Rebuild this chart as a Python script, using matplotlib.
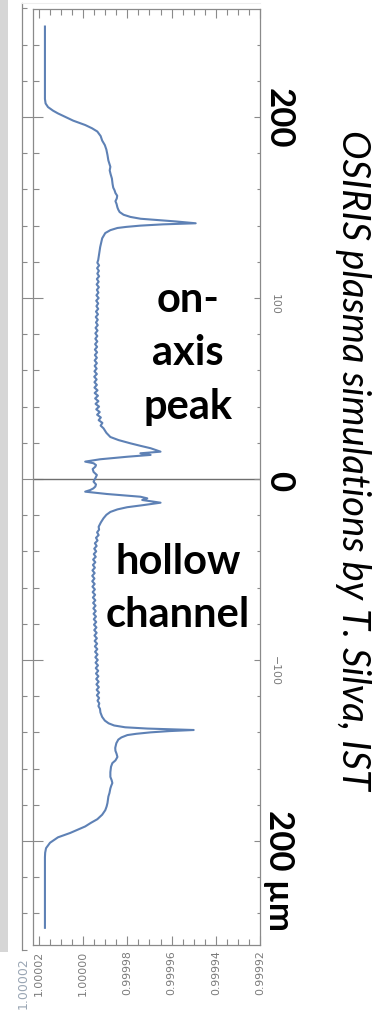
import matplotlib
matplotlib.use("Agg")
import matplotlib.pyplot as plt
import numpy as np
from matplotlib.patches import Rectangle
from matplotlib.ticker import MultipleLocator

# ---------------- data (index deviation from 1, in parts per million) ----------------
upper_edge_pos = [250, 230, 210, 207.5, 205.5, 203.5, 202, 200, 198, 195.6, 193.8, 192,
                  189.5, 187, 184.5, 182, 179, 176, 174, 172.5, 170.5, 168.5, 166, 163,
                  161, 159.5, 158, 156.5, 155, 153.5, 152, 150, 148.8, 147.5, 146, 144.8,
                  143.8, 143.1, 142.3, 141.3, 140.7, 140.0, 139.3, 138.7, 137.5, 135.9,
                  133, 128.2, 124, 121]
upper_edge_dn = [17.3, 17.3, 17.3, 17.0, 15.9, 13.6, 11.4, 8.0, 4.5, -0.9, -4.0, -6.4,
                 -7.9, -8.6, -9.8, -10.5, -11.0, -11.4, -11.9, -12.3, -12.0, -12.4, -13.0, -13.3,
                 -13.6, -14.2, -14.6, -15.4, -15.2, -14.6, -15.1, -15.5, -15.9, -16.5, -18.3, -21.4,
                 -26.0, -33.6, -42.0, -50.9, -36.0, -25.9, -19.5, -15.5, -12.3, -10.0,
                 -8.6, -7.7, -7.2, -6.8]

upper_channel_pos = [119.5, 118, 116.5, 115, 113.5, 112, 110.5, 109, 107.5, 106, 104.5, 103,
                     101.5, 100, 98.5, 97, 95.5, 94, 92.5, 91, 89.5, 88, 86.5, 85, 83.5, 82,
                     80.5, 79, 77.5, 76, 74.5, 73, 71.5, 70, 68.5, 67, 65.5, 64, 62.5, 61,
                     59.5, 58, 56.5, 55, 53.5, 52, 50.5, 49, 47.5, 46, 44.5, 43, 41.5, 40,
                     38.5, 37, 35.5, 34, 32.5, 31, 29.5]
upper_channel_dn = [-6.4, -7.2, -6.3, -7.1, -6.4, -7.2, -6.2, -7.0, -6.1, -7.1, -6.2, -6.9,
                    -6.0, -7.0, -5.9, -6.8, -6.0, -6.8, -5.8, -6.7, -5.7, -6.6, -5.8, -6.6, -5.6, -6.5,
                    -5.5, -6.4, -5.5, -6.4, -5.4, -6.3, -5.3, -6.3, -5.3, -6.2, -5.2, -6.2, -5.2, -6.1,
                    -5.1, -6.2, -5.0, -6.1, -5.1, -6.2, -5.1, -6.5, -5.2, -6.7, -5.4, -6.9, -5.6, -7.2,
                    -5.9, -7.5, -6.3, -8.0, -7.0, -8.7, -7.9]

center_pos = [28.0, 25.5, 23.2, 21.5, 19.7, 18.3, 17.0, 15.1, 14.2, 13.3, 12.3, 10.9, 9.6,
              8.7, 7.7, 6.8, 5.5, 3.9, 2.2, 0.4, -1.5, -3.0, -4.2, -5.2, -6.1, -7.0, -8.3,
              -9.8, -10.7, -11.6, -13.1, -14.4, -15.6, -16.8, -18.2, -19.8, -21.7, -24.0,
              -26.4, -28.0]
center_dn = [-9.2, -10.5, -12.3, -16.0, -21.4, -26.0, -30.5, -35.0, -25.9, -30.5, -20.0, -7.7, -0.9,
             -4.7, -5.8, -5.5, -4.3, -4.7, -6.2, -5.5, -4.7, -5.8, -5.5, -4.6, -3.2, -0.9, -10.8,
             -25.9, -29.0, -26.7, -35.0, -27.4, -19.9, -15.5, -12.3, -10.5, -9.2, -8.0,
             -7.0, -7.2]

lower_channel_pos = [-29.5, -31, -32.5, -34, -35.5, -37, -38.5, -40, -41.5, -43, -44.5, -46,
                     -47.5, -49, -50.5, -52, -53.5, -55, -56.5, -58, -59.5, -61, -62.5, -64,
                     -65.5, -67, -68.5, -70, -71.5, -73, -74.5, -76, -77.5, -79, -80.5, -82,
                     -83.5, -85, -86.5, -88, -89.5, -91, -92.5, -94, -95.5, -97, -98.5, -100,
                     -101.5, -103, -104.5, -106, -107.5, -109, -110.5, -112, -113.5, -115,
                     -116.5, -118, -119.5, -121, -122.5, -124, -125.5, -127]
lower_channel_dn = [-6.3, -7.0, -5.8, -6.5, -5.3, -6.1, -5.0, -5.9, -4.8, -5.7, -4.5, -5.5,
                    -4.4, -5.3, -4.2, -5.2, -4.1, -5.1, -4.1, -5.2, -4.2, -5.3, -4.3, -5.4,
                    -4.4, -5.5, -4.5, -5.6, -4.6, -5.7, -4.7, -5.8, -4.8, -5.9, -4.9, -6.0,
                    -5.0, -6.1, -5.1, -6.2, -5.2, -6.3, -5.3, -6.4, -5.4, -6.5, -5.5, -6.6,
                    -5.6, -6.7, -5.7, -6.8, -5.8, -6.9, -5.9, -7.0, -6.0, -7.1,
                    -6.1, -7.2, -6.2, -7.2, -6.5, -7.3, -6.9, -7.6]

lower_edge_pos = [-129, -131.5, -133.5, -135, -136.2, -137.2, -137.9, -138.7, -139.3, -140.0,
                  -140.8, -141.5, -142.8, -144, -146, -148.6, -150.2, -151.8, -153.6, -155.5,
                  -157, -159, -162, -164.6, -166.5, -168, -169.5, -171, -173.5, -175.5, -179,
                  -181, -183, -185.5, -187, -188, -190, -192, -195.6, -198, -201, -204,
                  -206.5, -209, -230, -248]
lower_edge_dn = [-7.8, -8.6, -9.8, -11.5, -14.0, -19.0, -29.0, -50.0, -39.0, -30.5,
                 -24.0, -20.0, -17.3, -15.9, -15.0, -14.5, -14.6, -15.1, -15.5, -14.6,
                 -13.2, -12.6, -12.3, -12.3, -12.9, -13.2, -12.7, -12.3, -11.9, -11.4, -11.0,
                 -10.6, -10.0, -8.6, -7.3, -6.4, -3.5, -0.9, 5.9, 11.4, 15.0, 16.8,
                 17.2, 17.3, 17.3, 17.3]

value_ticks_ppm = [20, 0, -20, -40, -60, -80]
value_tick_labels = ["1.00002", "1.00000", "0.99998", "0.99996", "0.99994", "0.99992"]
pos_ticks = [-200, -100, 0, 100, 200]
# the small labels at -200, 0 and 200 sit under the large bold labels
pos_tick_labels = ["", "\u2212100", "", "100", ""]

# ---------------- assemble ----------------
pos = np.concatenate([upper_edge_pos, upper_channel_pos, center_pos,
                      lower_channel_pos, lower_edge_pos])
dn = np.concatenate([upper_edge_dn, upper_channel_dn, center_dn,
                     lower_channel_dn, lower_edge_dn])
n_index = 1.0 + dn * 1e-6

W, H = 383, 1016
fig = plt.figure(figsize=(W / 100, H / 100), dpi=100)
fx = lambda px: px / W
fy = lambda py: 1 - py / H
GRAY = "#8a8a8a"

# grey strip on the far left
fig.add_artist(Rectangle((0, fy(952)), fx(8), 952 / H, transform=fig.transFigure,
                         facecolor="#d6d6d6", edgecolor="none", zorder=0))

# shadow frame behind
axo = fig.add_axes([fx(22), fy(950), fx(260) - fx(22), (950 - 3) / H])
axo.patch.set_visible(False)
axo.set_xlim(0, 1)
axo.set_ylim(-260.2, 263)
for s in ["right", "bottom"]:
    axo.spines[s].set_visible(False)
axo.spines["left"].set_color(GRAY)
axo.spines["left"].set_linewidth(0.9)
axo.spines["top"].set_color("#eeeeee")
axo.set_xticks([])
axo.yaxis.set_major_locator(MultipleLocator(100))
axo.yaxis.set_minor_locator(MultipleLocator(20))
axo.tick_params(axis="y", which="major", direction="in", length=8, width=0.8,
                color=GRAY, labelleft=False)
axo.tick_params(axis="y", which="minor", direction="in", length=3.6, width=0.8, color=GRAY)

# main plot
ax = fig.add_axes([fx(33), fy(945), fx(260) - fx(33), (945 - 9) / H])
ax.plot(n_index, pos, color="#5E81B5", lw=1.5, zorder=3)
ax.axhline(0, color="#6e6e6e", lw=1.0, zorder=2)
ax.set_xlim(1 + 22.7e-6, 1 - 80e-6)
ax.set_ylim(-257.5, 259.7)
for s in ax.spines.values():
    s.set_color(GRAY)
    s.set_linewidth(0.9)

ax.set_xticks([1 + v * 1e-6 for v in value_ticks_ppm])
ax.set_xticklabels(value_tick_labels)
ax.xaxis.set_minor_locator(MultipleLocator(5e-6))
ax.tick_params(axis="x", which="major", direction="in", length=6.5, width=0.8, color=GRAY,
               top=True, bottom=True, labelsize=7.8, labelcolor="#7a7a7a", pad=4,
               labelrotation=90)
ax.tick_params(axis="x", which="minor", direction="in", length=4.2, width=0.8, color=GRAY,
               top=True, bottom=True)
ax.set_yticks(pos_ticks)
ax.yaxis.set_minor_locator(MultipleLocator(20))
ax.tick_params(axis="y", which="major", direction="in", length=7.2, width=0.8, color=GRAY,
               left=True, right=False, labelleft=False)
ax.tick_params(axis="y", which="minor", direction="in", length=4.3, width=0.8, color=GRAY,
               left=True, right=False)

ax2 = ax.twinx()
ax2.set_ylim(ax.get_ylim())
for s in ax2.spines.values():
    s.set_visible(False)
ax2.set_yticks(pos_ticks)
ax2.set_yticklabels(pos_tick_labels)
ax2.yaxis.set_minor_locator(MultipleLocator(20))
ax2.tick_params(axis="y", which="major", direction="in", length=4.3, width=0.8, color=GRAY,
                labelsize=7.8, labelcolor="#7a7a7a", pad=7, labelrotation=-90)
ax2.tick_params(axis="y", which="minor", direction="in", length=2.2, width=0.8, color=GRAY)

# annotations inside plot
ax.text(0.683, 0.632, "on-\naxis\npeak", transform=ax.transAxes, ha="center", va="center",
        fontsize=30, fontweight="bold", family="Lato", linespacing=1.5, zorder=4)
ax.text(0.639, 0.381, "hollow\nchannel", transform=ax.transAxes, ha="center", va="center",
        fontsize=30, fontweight="bold", family="Lato", linespacing=1.5, zorder=4)

# big position labels (rotated)
big = dict(rotation=-90, ha="center", va="center", fontsize=25, fontweight="bold",
           family="Lato", color="black", zorder=10)
fig.text(fx(279), fy(118.5), "200", **big)
fig.text(fx(279), fy(481), "0", **big)
fig.text(fx(279), fy(870), "200 \u00b5m", **big)

# credit line
fig.text(fx(353), fy(460), "OSIRIS plasma simulations by T. Silva, IST", rotation=-90,
         ha="center", va="center", fontsize=27.5, style="italic", family="Lato", color="black")

# faint label from the shadow frame
fig.text(fx(23), fy(957), "1.00002", rotation=90, ha="center", va="top", fontsize=9,
         color="#9aa6b4")

fig.savefig("out.png", dpi=100)
